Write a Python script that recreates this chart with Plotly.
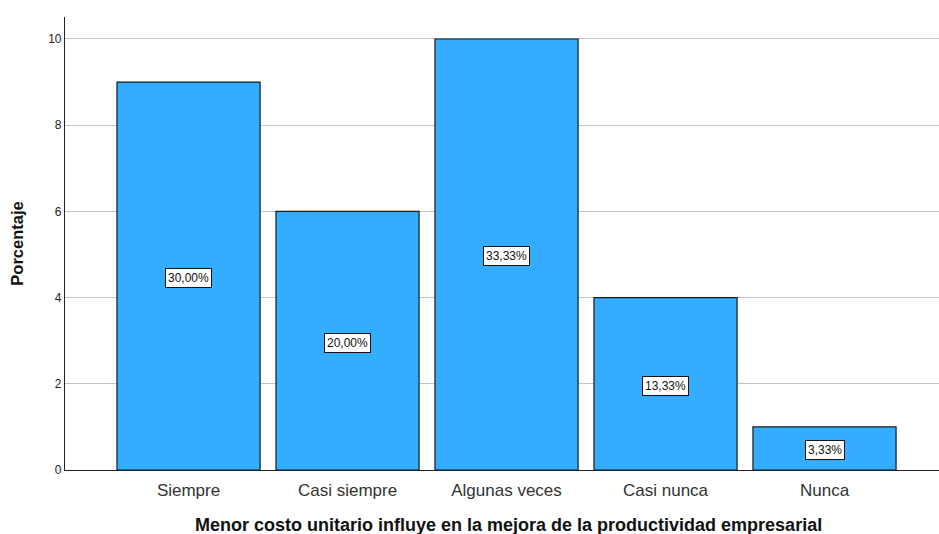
import plotly.graph_objects as go

categories = ["Siempre", "Casi siempre", "Algunas veces", "Casi nunca", "Nunca"]
counts = [9, 6, 10, 4, 1]
percent_labels = ["30,00%", "20,00%", "33,33%", "13,33%", "3,33%"]
y_ticks = [0, 2, 4, 6, 8, 10]

FONT = "Liberation Sans, Arial, sans-serif"

fig = go.Figure()
fig.add_trace(go.Bar(
    x=categories,
    y=counts,
    width=0.9,
    marker=dict(color="#33adff", line=dict(color="#1a1a1a", width=1.2)),
    hoverinfo="x+y",
))

# Percentage boxes centred in each bar
for cat, val, lab in zip(categories, counts, percent_labels):
    fig.add_annotation(
        x=cat, y=val / 2, text=lab, showarrow=False, yshift=-2,
        font=dict(family=FONT, size=12, color="#111111"),
        bgcolor="white", bordercolor="#111111", borderwidth=1, borderpad=2,
    )

# X-axis title as a paper annotation below the tick labels
fig.add_annotation(
    xref="paper", yref="paper", x=0.507, y=0, yshift=-55,
    xanchor="center", yanchor="middle", showarrow=False,
    text="<b>Menor costo unitario influye en la mejora de la productividad empresarial</b>",
    font=dict(family=FONT, size=18, color="#111111"),
)

fig.update_layout(
    width=939, height=534,
    margin=dict(l=65, r=0, t=17, b=64),
    plot_bgcolor="white", paper_bgcolor="white",
    showlegend=False,
    font=dict(family=FONT),
    xaxis=dict(
        range=[-0.777, 4.72],
        showline=True, linecolor="#222222", linewidth=1.2,
        showgrid=False, ticks="",
        ticklabelstandoff=4,
        tickfont=dict(family=FONT, size=17, color="#333333"),
    ),
    yaxis=dict(
        range=[0, 10.51],
        tickvals=y_ticks,
        showline=True, linecolor="#222222", linewidth=1.2,
        showgrid=True, gridcolor="#c4c4c4", gridwidth=1,
        zeroline=False, ticks="",
        tickfont=dict(family=FONT, size=12, color="#222222"),
        title=dict(text="<b>Porcentaje</b>",
                   font=dict(family=FONT, size=16.5, color="#111111"), standoff=20),
    ),
)

fig.write_html("out.html")
